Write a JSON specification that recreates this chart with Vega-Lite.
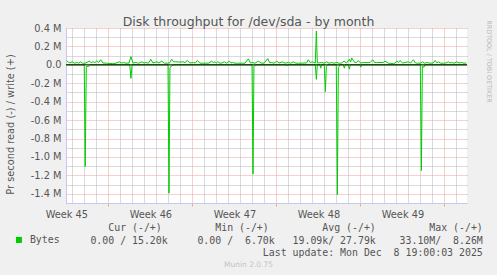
{
  "$schema": "https://vega.github.io/schema/vega-lite/v6.json",
  "width": 401,
  "height": 175,
  "autosize": {"type": "none"},
  "padding": {"left": 66, "top": 28, "right": 30, "bottom": 72},
  "background": "#f0f0f0",
  "config": {"view": {"fill": "#ffffff", "stroke": null}, "font": "DejaVu Sans"},
  "title": {"text": "Disk throughput for /dev/sda - by month", "font": "DejaVu Sans", "fontSize": 12.5, "fontWeight": "normal", "color": "#555555", "frame": "group", "anchor": "middle", "dx": -18, "dy": 23, "baseline": "alphabetic", "offset": 4},
  "datasets": {
    "write": [
      {"d":-3.48,"v":45000},{"d":-3.33,"v":30000},{"d":-3.2,"v":20000},{"d":-3.01,"v":33000},{"d":-2.83,"v":18000},{"d":-2.59,"v":25000},{"d":-2.45,"v":18000},{"d":-2.31,"v":33000},{"d":-2.16,"v":18000},{"d":-1.95,"v":18000},{"d":-1.78,"v":25000},{"d":-1.59,"v":40000},{"d":-1.43,"v":25000},{"d":-1.26,"v":33000},{"d":-1.12,"v":25000},{"d":-0.98,"v":40000},{"d":-0.81,"v":25000},{"d":-0.64,"v":55000},{"d":-0.45,"v":20000},{"d":-0.14,"v":18000},{"d":0.13,"v":15000},{"d":0.41,"v":12000},{"d":0.63,"v":18000},{"d":0.91,"v":33000},{"d":1.08,"v":20000},{"d":1.24,"v":25000},{"d":1.47,"v":18000},{"d":1.72,"v":20000},{"d":1.88,"v":90000},{"d":2.05,"v":20000},{"d":2.3,"v":25000},{"d":2.53,"v":18000},{"d":2.78,"v":33000},{"d":2.97,"v":20000},{"d":3.13,"v":25000},{"d":3.34,"v":18000},{"d":3.53,"v":60000},{"d":3.72,"v":20000},{"d":4.03,"v":33000},{"d":4.22,"v":20000},{"d":4.44,"v":40000},{"d":4.68,"v":18000},{"d":4.91,"v":18000},{"d":5.09,"v":20000},{"d":5.28,"v":60000},{"d":5.43,"v":33000},{"d":5.63,"v":33000},{"d":5.97,"v":30000},{"d":6.22,"v":33000},{"d":6.38,"v":25000},{"d":6.58,"v":47000},{"d":6.8,"v":20000},{"d":7.08,"v":25000},{"d":7.24,"v":20000},{"d":7.41,"v":47000},{"d":7.63,"v":18000},{"d":7.88,"v":18000},{"d":8.13,"v":18000},{"d":8.38,"v":20000},{"d":8.61,"v":40000},{"d":8.74,"v":25000},{"d":8.88,"v":33000},{"d":8.99,"v":20000},{"d":9.11,"v":33000},{"d":9.3,"v":18000},{"d":9.47,"v":20000},{"d":9.66,"v":33000},{"d":9.84,"v":18000},{"d":10.08,"v":40000},{"d":10.22,"v":20000},{"d":10.36,"v":25000},{"d":10.55,"v":18000},{"d":10.8,"v":18000},{"d":11.13,"v":18000},{"d":11.38,"v":18000},{"d":11.66,"v":65000},{"d":11.84,"v":20000},{"d":11.99,"v":25000},{"d":12.22,"v":18000},{"d":12.49,"v":40000},{"d":12.72,"v":20000},{"d":12.97,"v":18000},{"d":13.28,"v":68000},{"d":13.43,"v":25000},{"d":13.61,"v":25000},{"d":13.8,"v":18000},{"d":14.03,"v":40000},{"d":14.22,"v":20000},{"d":14.49,"v":33000},{"d":14.72,"v":18000},{"d":14.99,"v":25000},{"d":15.18,"v":18000},{"d":15.41,"v":33000},{"d":15.63,"v":18000},{"d":15.84,"v":18000},{"d":16.05,"v":18000},{"d":16.3,"v":20000},{"d":16.51,"v":20000},{"d":16.66,"v":55000},{"d":16.83,"v":25000},{"d":16.99,"v":33000},{"d":17.24,"v":20000},{"d":17.33,"v":367000},{"d":17.41,"v":20000},{"d":17.78,"v":25000},{"d":17.97,"v":18000},{"d":18.19,"v":33000},{"d":18.38,"v":18000},{"d":18.61,"v":25000},{"d":18.8,"v":18000},{"d":19.03,"v":25000},{"d":19.22,"v":18000},{"d":19.43,"v":20000},{"d":19.63,"v":40000},{"d":19.84,"v":20000},{"d":20.08,"v":60000},{"d":20.18,"v":30000},{"d":20.28,"v":75000},{"d":20.47,"v":33000},{"d":20.63,"v":22000},{"d":20.83,"v":47000},{"d":21.01,"v":20000},{"d":21.24,"v":25000},{"d":21.53,"v":25000},{"d":21.8,"v":25000},{"d":22.03,"v":55000},{"d":22.18,"v":25000},{"d":22.36,"v":25000},{"d":22.63,"v":25000},{"d":22.88,"v":25000},{"d":23.05,"v":40000},{"d":23.33,"v":18000},{"d":23.51,"v":15000},{"d":23.74,"v":12000},{"d":23.88,"v":20000},{"d":24.03,"v":40000},{"d":24.18,"v":25000},{"d":24.3,"v":47000},{"d":24.51,"v":20000},{"d":24.72,"v":25000},{"d":24.99,"v":33000},{"d":25.18,"v":20000},{"d":25.41,"v":55000},{"d":25.59,"v":20000},{"d":25.74,"v":18000},{"d":25.97,"v":18000},{"d":26.19,"v":33000},{"d":26.34,"v":18000},{"d":26.53,"v":25000},{"d":26.8,"v":18000},{"d":27.05,"v":20000},{"d":27.22,"v":47000},{"d":27.37,"v":22000},{"d":27.49,"v":33000},{"d":27.68,"v":18000},{"d":27.91,"v":18000},{"d":28.13,"v":20000},{"d":28.33,"v":33000},{"d":28.47,"v":20000},{"d":28.61,"v":25000},{"d":28.8,"v":18000},{"d":29.03,"v":33000},{"d":29.22,"v":20000},{"d":29.44,"v":25000},{"d":29.63,"v":18000},{"d":29.83,"v":20000}
    ],
    "read": [
      {"d":-3.49,"v":0},{"d":-2.01,"v":0},{"d":-1.93,"v":-1104000},{"d":-1.84,"v":-20000},{"d":-1.62,"v":-15000},{"d":-1.49,"v":0},{"d":1.78,"v":0},{"d":1.88,"v":-147000},{"d":1.98,"v":0},{"d":4.97,"v":0},{"d":5.05,"v":-1393000},{"d":5.13,"v":-30000},{"d":5.3,"v":-10000},{"d":5.47,"v":0},{"d":11.97,"v":0},{"d":12.05,"v":-1187000},{"d":12.13,"v":-15000},{"d":12.3,"v":0},{"d":14.8,"v":0},{"d":14.88,"v":-10000},{"d":14.97,"v":0},{"d":17.24,"v":0},{"d":17.33,"v":-157000},{"d":17.41,"v":0},{"d":17.63,"v":0},{"d":17.69,"v":-36000},{"d":17.76,"v":0},{"d":17.99,"v":0},{"d":18.08,"v":-290000},{"d":18.16,"v":-20000},{"d":18.3,"v":0},{"d":18.99,"v":0},{"d":19.08,"v":-1410000},{"d":19.16,"v":-30000},{"d":19.3,"v":0},{"d":19.58,"v":0},{"d":19.66,"v":-36000},{"d":19.74,"v":0},{"d":19.99,"v":0},{"d":20.08,"v":-47000},{"d":20.16,"v":0},{"d":20.94,"v":0},{"d":21.03,"v":-25000},{"d":21.11,"v":0},{"d":25.99,"v":0},{"d":26.08,"v":-1148000},{"d":26.16,"v":-15000},{"d":26.3,"v":-25000},{"d":26.38,"v":0},{"d":29.84,"v":0}
    ]
  },
  "layer": [
    {
      "data": {"name": "write"},
      "mark": {"type": "line", "strokeWidth": 1, "clip": true},
      "encoding": {
        "x": {
          "field": "d", "type": "quantitative",
          "scale": {"domain": [-3.53, 29.88], "nice": false, "zero": false},
          "axis": {
            "orient": "bottom",
            "values": [-3.5, -3, -2, -1, 0, 1, 2, 3, 4, 5, 6, 7, 8, 9, 10, 11, 12, 13, 14, 15, 16, 17, 18, 19, 20, 21, 22, 23, 24, 25, 26, 27, 28, 29, 3.5, 10.5, 17.5, 24.5],
            "labelExpr": "datum.value % 1 != 0 ? 'Week ' + (45 + floor((datum.value + 3.5) / 7)) : ''",
            "labelFont": "DejaVu Sans", "labelFontSize": 9.8, "labelColor": "#555555",
            "labelFlush": false, "labelOverlap": false, "labelBound": false, "labelPadding": 3,
            "grid": true,
            "gridColor": {"condition": {"test": "datum.value % 7 == 0", "value": "#f0a0a0"}, "value": "#b4b4b4"},
            "gridOpacity": {"condition": {"test": "datum.value % 1 != 0", "value": 0}, "value": 1},
            "gridDash": [1, 1], "gridWidth": 1,
            "ticks": true, "tickSize": 3, "tickColor": "#f0a0a0",
            "tickOpacity": {"condition": {"test": "datum.value % 7 == 0", "value": 1}, "value": 0},
            "domainColor": "#c8c8f0", "domainWidth": 1,
            "title": ["Cur (-/+)\u00a0\u00a0\u00a0\u00a0\u00a0\u00a0\u00a0\u00a0\u00a0Min (-/+)\u00a0\u00a0\u00a0\u00a0\u00a0\u00a0\u00a0\u00a0\u00a0Avg (-/+)\u00a0\u00a0\u00a0\u00a0\u00a0\u00a0\u00a0\u00a0\u00a0Max (-/+)\u00a0", "0.00 / 15.20k\u00a0\u00a0\u00a0\u00a0\u00a00.00 /\u00a0\u00a06.70k\u00a0\u00a0\u00a019.09k/ 27.79k\u00a0\u00a0\u00a0\u00a033.10M/\u00a0\u00a08.26M", "Last update: Mon Dec\u00a0\u00a08 19:00:03 2025"],
            "titleFont": "DejaVu Sans Mono", "titleFontSize": 9.9, "titleFontWeight": "normal", "titleColor": "#555555",
            "titleAlign": "right", "titleAnchor": "start", "titleX": 416.3, "titleY": 27.9, "titleBaseline": "alphabetic", "titleLineHeight": 12.2
          }
        },
        "y": {
          "field": "v", "type": "quantitative",
          "scale": {"domain": [-1500000, 400000], "nice": false, "zero": false},
          "axis": {
            "orient": "left",
            "values": [-1500000, -1400000, -1300000, -1200000, -1100000, -1000000, -900000, -800000, -700000, -600000, -500000, -400000, -300000, -200000, -100000, 0, 100000, 200000, 300000, 400000],
            "labelExpr": "datum.value % 200000 != 0 ? '' : datum.value == 0 ? '0.0' : (datum.value < 0 ? '-' : '') + format(abs(datum.value) / 1000000, '.1f') + ' M'",
            "labelFont": "DejaVu Sans", "labelFontSize": 9.8, "labelColor": "#555555",
            "labelPadding": 5, "labelOverlap": false, "labelBound": false, "labelFlush": false,
            "ticks": false,
            "grid": true,
            "gridColor": {"condition": {"test": "datum.value % 200000 == 0", "value": "#f0a0a0"}, "value": "#b4b4b4"},
            "gridDash": [1, 1], "gridWidth": 1,
            "domainColor": "#c8c8f0", "domainWidth": 1,
            "title": "Pr second read (-) / write (+)",
            "titleFont": "DejaVu Sans", "titleFontSize": 9.8, "titleFontWeight": "normal", "titleColor": "#555555",
            "titleX": -56, "titleY": 96, "titleAngle": -90, "titleAlign": "center", "titleBaseline": "middle"
          }
        },
        "color": {
          "datum": "Bytes",
          "scale": {"range": ["#00cc00"]},
          "legend": {
            "orient": "none", "legendX": -52, "legendY": 207, "title": null, "padding": 0,
            "symbolType": "square", "symbolSize": 36, "symbolStrokeWidth": 0, "symbolFillColor": "#00cc00",
            "labelFont": "DejaVu Sans Mono", "labelFontSize": 9.9, "labelColor": "#555555", "labelOffset": 6,
            "encode": {"symbols": {"update": {"fill": {"value": "#00cc00"}, "stroke": {"value": "#00cc00"}, "strokeWidth": {"value": 0}}}}
          }
        }
      }
    },
    {
      "data": {"name": "read"},
      "mark": {"type": "line", "strokeWidth": 1, "clip": true},
      "encoding": {
        "x": {
          "field": "d", "type": "quantitative",
          "axis": {
            "orient": "top", "domain": false, "ticks": false, "labels": false, "grid": false,
            "title": "Munin 2.0.75", "titleFont": "DejaVu Sans", "titleFontSize": 7.5, "titleFontWeight": "normal", "titleColor": "#c4c4c4",
            "titleX": 182, "titleY": 236, "titleAlign": "center", "titleBaseline": "middle", "titleAngle": 0
          }
        },
        "y": {
          "field": "v", "type": "quantitative",
          "axis": {
            "orient": "right", "domain": false, "ticks": false, "labels": false, "grid": false,
            "title": "RRDTOOL / TOBI OETIKER", "titleFont": "DejaVu Sans", "titleFontSize": 6.4, "titleFontWeight": "normal", "titleColor": "#b8b8b8",
            "titleX": 21, "titleY": 33, "titleAngle": 90, "titleAlign": "center", "titleBaseline": "middle"
          }
        },
        "color": {"datum": "Bytes"}
      }
    },
    {
      "data": {"values": [{"v": 0}]},
      "mark": {"type": "rule", "color": "#000000", "strokeWidth": 1},
      "encoding": {"y": {"field": "v", "type": "quantitative", "axis": null}}
    }
  ],
  "resolve": {"axis": {"x": "independent", "y": "independent"}}
}
